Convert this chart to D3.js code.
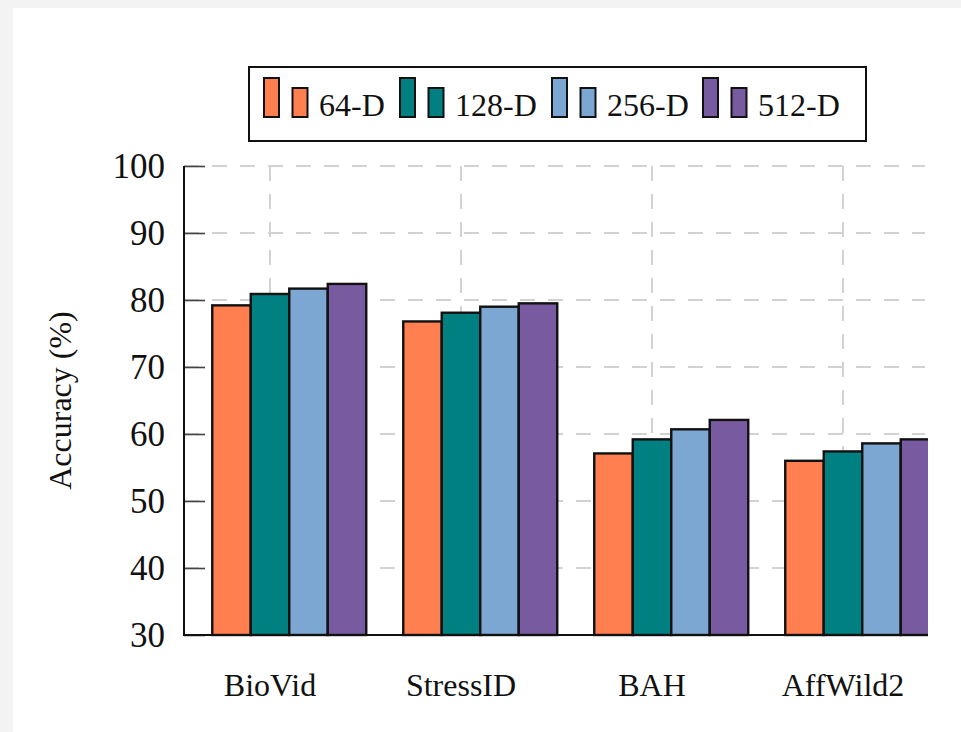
<!DOCTYPE html>
<html>
<head>
<meta charset="utf-8">
<script src="https://cdn.jsdelivr.net/npm/d3@7"></script>
<style>
  html, body { margin: 0; padding: 0; background: #f3f3f3; }
  svg { display: block; }
</style>
</head>
<body>
<svg id="chart" width="961" height="732"></svg>
<script>
const categories = ["BioVid", "StressID", "BAH", "AffWild2"];
const seriesNames = ["64-D", "128-D", "256-D", "512-D"];
const seriesColors = ["#FF7F50", "#008080", "#7BA7D2", "#785AA0"];
const values64 = [79.2, 76.8, 57.1, 56.0];
const values128 = [80.9, 78.1, 59.2, 57.4];
const values256 = [81.7, 79.0, 60.7, 58.6];
const values512 = [82.4, 79.5, 62.1, 59.2];
const yTicks = [30, 40, 50, 60, 70, 80, 90, 100];
const yLabel = "Accuracy (%)";

const seriesValues = [values64, values128, values256, values512];
const serif = "'Liberation Serif', 'Times New Roman', serif";

const svg = d3.select("#chart");

// page background (white sheet on grey)
svg.append("rect").attr("x", 0).attr("y", 0).attr("width", 961).attr("height", 732).attr("fill", "#f3f3f3");
svg.append("rect").attr("x", 13).attr("y", 8).attr("width", 948).attr("height", 724).attr("fill", "#ffffff");

const plotLeft = 184, plotRight = 928, plotTop = 166, plotBottom = 635;

const y = d3.scaleLinear().domain([30, 100]).range([plotBottom, plotTop]);
const x = d3.scalePoint().domain(categories).range([270, 843]);
const barW = 38.5;
const xSub = d3.scaleBand().domain(seriesNames).range([-1.5 * barW, 2.5 * barW]).padding(0);

const defs = svg.append("defs");
defs.append("clipPath").attr("id", "plotclip")
  .append("rect").attr("x", 0).attr("y", 0).attr("width", plotRight).attr("height", 732);

const plot = svg.append("g").attr("clip-path", "url(#plotclip)");

// grid
const gridColor = "#d2d2d2";
plot.append("g").selectAll("line.hg").data(yTicks.filter(t => t > 30)).join("line")
  .attr("x1", plotLeft).attr("x2", plotRight - 3)
  .attr("y1", d => y(d)).attr("y2", d => y(d))
  .attr("stroke", gridColor).attr("stroke-width", 2).attr("stroke-dasharray", "15,13");
plot.append("g").selectAll("line.vg").data(categories).join("line")
  .attr("x1", d => x(d)).attr("x2", d => x(d))
  .attr("y1", plotTop).attr("y2", plotBottom)
  .attr("stroke", gridColor).attr("stroke-width", 2).attr("stroke-dasharray", "15,13");

// y ticks (inward)
const yAxis = d3.axisRight(y).tickValues(yTicks).tickSize(21).tickFormat("");
const yAxisG = svg.append("g").attr("transform", `translate(${plotLeft},0)`).call(yAxis);
yAxisG.select(".domain").remove();
yAxisG.selectAll(".tick line").attr("stroke", "#444").attr("stroke-width", 1.6);

// bars
const groups = plot.append("g").selectAll("g").data(seriesNames).join("g")
  .attr("fill", (d, i) => seriesColors[i]);
groups.each(function(s, si) {
  d3.select(this).selectAll("rect").data(categories).join("rect")
    .attr("x", c => x(c) + xSub(s))
    .attr("width", xSub.bandwidth())
    .attr("y", (c, ci) => y(seriesValues[si][ci]))
    .attr("height", (c, ci) => y(30) - y(seriesValues[si][ci]))
    .attr("stroke", "#111")
    .attr("stroke-width", 2.4);
});

// axes lines
svg.append("line").attr("x1", plotLeft).attr("x2", plotLeft).attr("y1", plotTop).attr("y2", plotBottom + 1)
  .attr("stroke", "#111").attr("stroke-width", 2);
svg.append("line").attr("x1", plotLeft - 1).attr("x2", plotRight).attr("y1", plotBottom).attr("y2", plotBottom)
  .attr("stroke", "#111").attr("stroke-width", 2);

// y tick labels
svg.append("g").selectAll("text").data(yTicks).join("text")
  .attr("x", 165).attr("y", d => y(d) + 12)
  .attr("text-anchor", "end")
  .attr("font-family", serif).attr("font-size", 35).attr("fill", "#111")
  .text(d => d);

// x labels
svg.append("g").selectAll("text").data(categories).join("text")
  .attr("x", d => x(d)).attr("y", 696)
  .attr("text-anchor", "middle")
  .attr("font-family", serif).attr("font-size", 32).attr("fill", "#111")
  .text(d => d);

// y label
svg.append("text")
  .attr("transform", `translate(71,${(plotTop + plotBottom) / 2}) rotate(-90)`)
  .attr("text-anchor", "middle")
  .attr("font-family", serif).attr("font-size", 32).attr("fill", "#111")
  .text(yLabel);

// legend
const legend = svg.append("g");
legend.append("rect").attr("x", 249).attr("y", 67).attr("width", 617).attr("height", 74)
  .attr("fill", "#fff").attr("stroke", "#111").attr("stroke-width", 2);
const legendX = [264, 400, 552, 703];
seriesNames.forEach((s, i) => {
  const lx = legendX[i];
  legend.append("rect").attr("x", lx).attr("y", 78).attr("width", 15).attr("height", 39)
    .attr("fill", seriesColors[i]).attr("stroke", "#111").attr("stroke-width", 2);
  legend.append("rect").attr("x", lx + 28.5).attr("y", 88).attr("width", 15).attr("height", 29)
    .attr("fill", seriesColors[i]).attr("stroke", "#111").attr("stroke-width", 2);
  legend.append("text").attr("x", lx + 55).attr("y", 116)
    .attr("font-family", serif).attr("font-size", 32).attr("fill", "#111")
    .text(s);
});
</script>
</body>
</html>
